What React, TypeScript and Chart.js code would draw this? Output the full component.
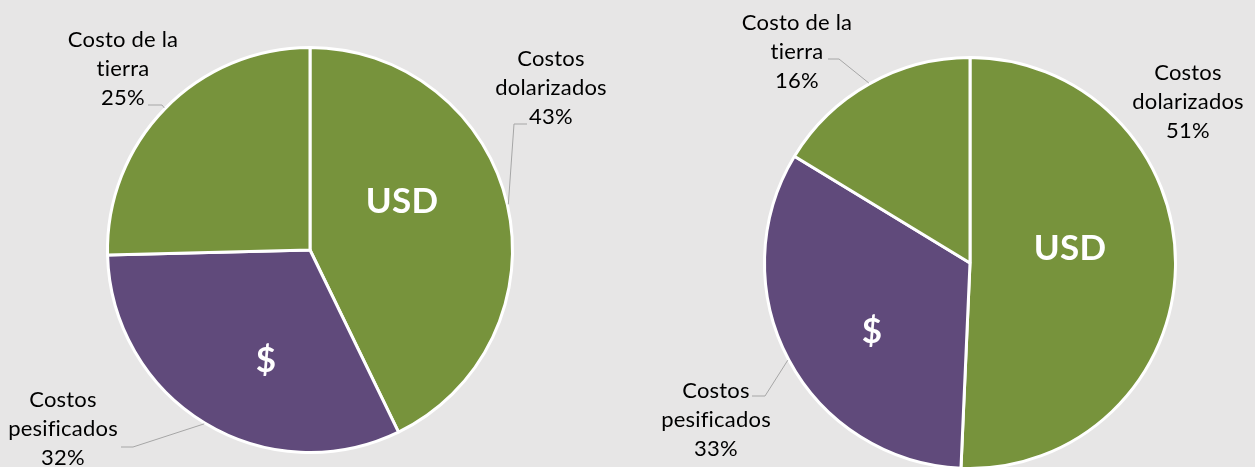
import React, { useEffect, useRef } from "react";
import { Chart, registerables } from "chart.js";

Chart.register(...registerables);

// ---- data ----
const categories = ["Costos dolarizados", "Costos pesificados", "Costo de la tierra"];
const labelLines = [["Costos", "dolarizados"], ["Costos", "pesificados"], ["Costo de la", "tierra"]];
const leftValues = [42.8, 31.8, 25.4];
const rightValues = [50.7, 33.0, 16.3];
const currencyTags = ["USD", "$", ""];

// ---- styles ----
const GREEN = "#77933C";
const PURPLE = "#604A7B";
const sliceColors = [GREEN, PURPLE, GREEN];
const BG = "#E7E6E6";
const LABEL_FONT = "22px Lato";
const TAG_FONT = "bold 35px Lato";
const LINE_H = 29;

// layout (offsets relative to pie centre, px)
type LabelLayout = { dx: number; dy: number; elbow?: [number, number]; end?: [number, number] };
const leftLabelLayout: LabelLayout[] = [
  { dx: 241, dy: -184, elbow: [204, -126], end: [217, -126] },
  { dx: -247, dy: 157, elbow: [-177, 197], end: [-189, 197] },
  { dx: -187, dy: -203, elbow: [-148, -145], end: [-162, -145] },
];
const rightLabelLayout: LabelLayout[] = [
  { dx: 218, dy: -183 },
  { dx: -254, dy: 135, elbow: [-205, 133], end: [-218, 133] },
  { dx: -173, dy: -233, elbow: [-131, -204], end: [-142, -204] },
];
const leftTagLayout: [number, number][] = [[92, -37], [-44, 122]];
const rightTagLayout: [number, number][] = [[100, -3], [-98, 80]];

function makePlugin(labels: LabelLayout[], tags: [number, number][]) {
  return {
    id: "pieLabels",
    afterDatasetsDraw(chart: any) {
      const ctx = chart.ctx;
      const meta = chart.getDatasetMeta(0);
      const data = chart.data.datasets[0].data as number[];
      const total = data.reduce((a: number, b: number) => a + b, 0);
      ctx.save();
      meta.data.forEach((arc: any, i: number) => {
        const cx = arc.x;
        const cy = arc.y;
        const lay = labels[i];
        // leader line
        if (lay.elbow && lay.end) {
          const mid = (arc.startAngle + arc.endAngle) / 2;
          const r = arc.outerRadius + 1;
          ctx.beginPath();
          ctx.strokeStyle = "#A6A6A6";
          ctx.lineWidth = 1;
          ctx.moveTo(cx + Math.cos(mid) * r, cy + Math.sin(mid) * r);
          ctx.lineTo(cx + lay.elbow[0], cy + lay.elbow[1]);
          ctx.lineTo(cx + lay.end[0], cy + lay.end[1]);
          ctx.stroke();
        }
        // text
        ctx.fillStyle = "#000";
        ctx.font = LABEL_FONT;
        try {
          (ctx as any).letterSpacing = "0.2px";
        } catch (e) {}
        ctx.textAlign = "center";
        ctx.textBaseline = "alphabetic";
        const lines = [...labelLines[i], Math.round((data[i] / total) * 100) + "%"];
        lines.forEach((t, k) => {
          ctx.fillText(t, cx + lay.dx, cy + lay.dy + k * LINE_H);
        });
        // currency tags
        if (currencyTags[i] && tags[i]) {
          ctx.fillStyle = "#FFFFFF";
          ctx.font = TAG_FONT;
          ctx.fillText(currencyTags[i], cx + tags[i][0], cy + tags[i][1]);
        }
      });
      ctx.restore();
    },
  };
}

function PieChart(props: {
  values: number[];
  radius: number;
  width: number;
  height: number;
  left: number;
  top: number;
  labels: LabelLayout[];
  tags: [number, number][];
}) {
  const ref = useRef<HTMLCanvasElement>(null);
  useEffect(() => {
    if (!ref.current) return;
    const chart = new Chart(ref.current, {
      type: "pie",
      data: {
        labels: categories,
        datasets: [
          {
            data: props.values,
            backgroundColor: sliceColors,
            borderColor: "#FFFFFF",
            borderWidth: 3,
          },
        ],
      },
      options: {
        animation: false,
        responsive: false,
        devicePixelRatio: 1,
        radius: props.radius,
        layout: { padding: 0 },
        plugins: { legend: { display: false }, tooltip: { enabled: false } },
        events: [],
      } as any,
      plugins: [makePlugin(props.labels, props.tags)],
    });
    return () => chart.destroy();
  }, []);
  return (
    <canvas
      ref={ref}
      width={props.width}
      height={props.height}
      style={{ position: "absolute", left: props.left, top: props.top, width: props.width, height: props.height }}
    />
  );
}

export default function App() {
  return (
    <div
      style={{
        position: "absolute",
        left: 0,
        top: 0,
        width: 1255,
        height: 467,
        overflow: "hidden",
        background: BG,
      }}
    >
      <PieChart values={leftValues} radius={202.5} width={620} height={500} left={0} top={0} labels={leftLabelLayout} tags={leftTagLayout} />
      <PieChart values={rightValues} radius={205.5} width={700} height={526} left={620} top={0} labels={rightLabelLayout} tags={rightTagLayout} />
    </div>
  );
}
